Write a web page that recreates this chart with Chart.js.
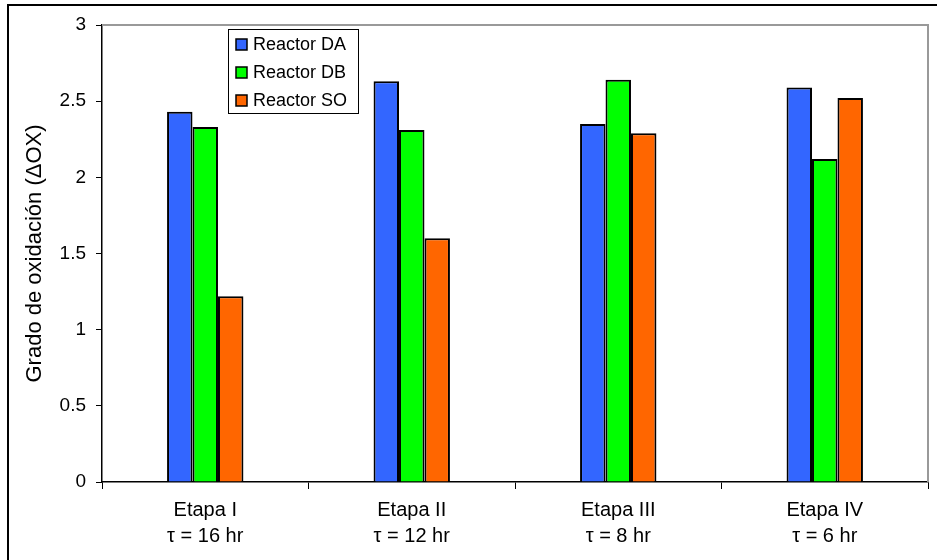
<!DOCTYPE html>
<html>
<head>
<meta charset="utf-8">
<script src="https://cdn.jsdelivr.net/npm/chart.js@4/dist/chart.umd.min.js"></script>
<style>
  html, body { margin: 0; padding: 0; background: #fff; }
  #wrap { position: relative; width: 937px; height: 560px; }
  #frame { position: absolute; left: 7px; top: 4px; right: 0; bottom: 0;
           border-left: 2px solid #000; border-top: 2px solid #000; pointer-events: none; }
  canvas { display: block; }
</style>
</head>
<body>
<div id="wrap">
  <canvas id="c" width="937" height="560"></canvas>
  <div id="frame"></div>
</div>
<script>
// Oxidation degree per stage and reactor
const stages = [
  ['Etapa I', 'τ = 16 hr'],
  ['Etapa II', 'τ = 12 hr'],
  ['Etapa III', 'τ = 8 hr'],
  ['Etapa IV', 'τ = 6 hr']
];
const reactorDA = [2.43, 2.63, 2.35, 2.59];
const reactorDB = [2.33, 2.31, 2.64, 2.12];
const reactorSO = [1.22, 1.60, 2.29, 2.52];
const seriesNames = ['Reactor DA', 'Reactor DB', 'Reactor SO'];
const seriesColors = ['#3366FF', '#00FF00', '#FF6600'];
const yTicks = [0, 0.5, 1, 1.5, 2, 2.5, 3];

const FONT = '"Liberation Sans", Arial, sans-serif';

// Gray frame on the top and right of the plot area
const plotFrame = {
  id: 'plotFrame',
  beforeDatasetsDraw(chart) {
    const { ctx, chartArea: a } = chart;
    ctx.save();
    ctx.strokeStyle = '#999';
    ctx.lineWidth = 2;
    ctx.beginPath();
    ctx.moveTo(a.left, a.top);
    ctx.lineTo(a.right, a.top);
    ctx.lineTo(a.right, a.bottom);
    ctx.stroke();
    ctx.restore();
  }
};

// Boxed legend inside the plot area
const boxLegend = {
  id: 'boxLegend',
  afterDraw(chart) {
    const { ctx } = chart;
    const x0 = 228, y0 = 29, w = 130, h = 84;
    ctx.save();
    ctx.fillStyle = '#fff';
    ctx.fillRect(x0, y0, w, h);
    ctx.strokeStyle = '#000';
    ctx.lineWidth = 1;
    ctx.strokeRect(x0 + 0.5, y0 + 0.5, w, h);
    ctx.font = '18px ' + FONT;
    ctx.textBaseline = 'middle';
    chart.data.datasets.forEach((ds, i) => {
      const cy = y0 + 15.5 + i * 28;
      ctx.fillStyle = ds.backgroundColor;
      ctx.fillRect(x0 + 8, cy - 5.5, 11, 11);
      ctx.strokeStyle = '#000';
      ctx.lineWidth = 1.5;
      ctx.strokeRect(x0 + 8, cy - 5.5, 11, 11);
      ctx.fillStyle = '#000';
      ctx.fillText(ds.label, x0 + 25, cy + 1);
    });
    ctx.restore();
  }
};

const values = [reactorDA, reactorDB, reactorSO];
new Chart(document.getElementById('c'), {
  type: 'bar',
  data: {
    labels: stages,
    datasets: seriesNames.map((name, i) => ({
      label: name,
      data: values[i],
      backgroundColor: seriesColors[i],
      borderColor: '#000',
      borderWidth: 2,
      categoryPercentage: 0.37,
      barPercentage: 1.0
    }))
  },
  options: {
    responsive: false,
    animation: false,
    layout: { padding: { top: 25, right: 9, left: 22, bottom: 0 } },
    plugins: { legend: { display: false }, tooltip: { enabled: false } },
    scales: {
      x: {
        grid: { offset: true, drawOnChartArea: false, color: '#000', tickLength: 7, lineWidth: 1 },
        border: { color: '#000', width: 1.5 },
        ticks: { color: '#000', font: { family: FONT, size: 20, lineHeight: 1.3 }, padding: 8, maxRotation: 0 },
        afterFit(s) { s.height = 78; }
      },
      y: {
        min: 0, max: 3,
        afterBuildTicks(s) { s.ticks = yTicks.map(v => ({ value: v })); },
        grid: { drawOnChartArea: false, color: '#000', tickLength: 6 },
        border: { color: '#000', width: 1.5 },
        ticks: { color: '#000', font: { family: FONT, size: 19 }, padding: 10,
                 callback: v => String(v) },
        title: { display: true, text: 'Grado de oxidación (ΔOX)', color: '#000',
                 font: { family: FONT, size: 22 }, padding: 0 },
        afterFit(s) { s.width = 80; }
      }
    }
  },
  plugins: [plotFrame, boxLegend]
});
</script>
</body>
</html>
